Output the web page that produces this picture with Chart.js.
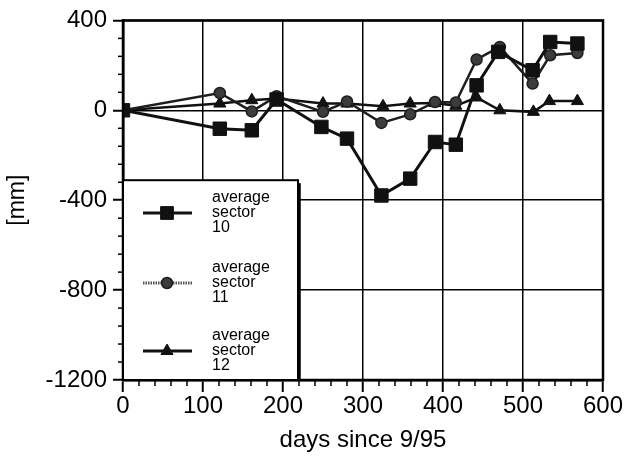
<!DOCTYPE html>
<html><head><meta charset="utf-8">
<style>html,body{margin:0;padding:0;background:#fff}</style>
<script src="https://cdn.jsdelivr.net/npm/chart.js@4/dist/chart.umd.min.js"></script>
</head><body>
<canvas id="c" width="624" height="459"></canvas>
<script>
const days10 = [0,121,161,192,248,280,323,359,390,416,442,469,512,534,568];
const sector10 = [0,-82,-89,48,-74,-126,-379,-304,-141,-153,111,260,178,304,297];
const days11 = [0,121,161,192,250,280,323,359,390,416,442,471,512,534,568];
const sector11 = [0,77,-5,63,-7,39,-56,-18,37,35,226,282,119,245,255];
const days12 = [0,121,161,192,250,280,325,359,390,416,442,471,513,533,568];
const sector12 = [0,30,45,52,30,30,18,30,32,20,57,0,-7,41,41];
const legendLabels = [["average","sector","10"],["average","sector","11"],["average","sector","12"]];
const xTitle = "days since 9/95";
const yTitle = "[mm]";

const FONT = "'Liberation Sans', Arial, Helvetica, sans-serif";
const pts = (xs, ys) => xs.map((x, i) => ({x: x, y: ys[i]}));

const styles = [
  {pointStyle:'rect', pointRadius:9.5, backgroundColor:'#111', borderColor:'#111', borderWidth:3, pointBorderWidth:1},
  {pointStyle:'circle', pointRadius:5.5, backgroundColor:'#3c3c3c', borderColor:'#1e1e1e', borderWidth:2.5, pointBorderWidth:1.5},
  {pointStyle:'triangle', pointRadius:7, backgroundColor:'#111', borderColor:'#111', borderWidth:2.5, pointBorderWidth:1}
];
const allDays = [days10, days11, days12];
const allVals = [sector10, sector11, sector12];

const datasets = allDays.map((d, i) => Object.assign({
  label: legendLabels[i].join(' '),
  data: pts(d, allVals[i]),
  showLine: true,
  tension: 0,
  pointBackgroundColor: styles[i].backgroundColor,
  pointBorderColor: styles[i].borderColor,
}, styles[i]));

const extras = {
  id: 'extras',
  afterDraw(chart) {
    const ctx = chart.ctx;
    const xs = chart.scales.x, ys = chart.scales.y;
    const a = chart.chartArea;
    ctx.save();
    ctx.strokeStyle = '#000';
    ctx.lineWidth = 1.5;
    for (let v = 0; v <= 600; v += 20) {
      if (v % 100 === 0) continue;
      const px = xs.getPixelForValue(v);
      ctx.beginPath(); ctx.moveTo(px, a.bottom); ctx.lineTo(px, a.bottom + 6); ctx.stroke();
    }
    for (let v = -1200; v <= 400; v += 80) {
      if (v % 400 === 0) continue;
      const py = ys.getPixelForValue(v);
      ctx.beginPath(); ctx.moveTo(a.left - 5, py); ctx.lineTo(a.left, py); ctx.stroke();
    }
    ctx.lineWidth = 2.5;
    ctx.strokeRect(a.left, a.top, a.right - a.left, a.bottom - a.top);
    // legend box
    const bx = a.left, by = ys.getPixelForValue(-311), bw = 175, bh = a.bottom - by;
    ctx.fillStyle = '#fff';
    ctx.fillRect(bx, by, bw, bh);
    ctx.lineWidth = 2;
    ctx.strokeRect(bx, by, bw, bh);
    ctx.lineWidth = 3.5;
    ctx.beginPath(); ctx.moveTo(bx + bw + 1, by + 3); ctx.lineTo(bx + bw + 1, by + bh); ctx.stroke();
    const rowY = [213, 283, 351];
    chart.data.datasets.forEach((ds, i) => {
      const y = rowY[i];
      ctx.strokeStyle = i === 1 ? '#555' : ds.borderColor;
      ctx.lineWidth = i === 1 ? 3 : 3;
      ctx.setLineDash(i === 1 ? [1.5, 1] : []);
      ctx.beginPath(); ctx.moveTo(bx + 20, y); ctx.lineTo(bx + 69, y); ctx.stroke();
      ctx.setLineDash([]);
      ctx.fillStyle = ds.backgroundColor; ctx.strokeStyle = ds.borderColor;
      ctx.lineWidth = ds.pointBorderWidth;
      Chart.helpers.drawPoint(ctx, {pointStyle: ds.pointStyle, radius: ds.pointRadius * (i === 0 ? 0.95 : 1), rotation: 0, borderWidth: ds.pointBorderWidth}, bx + 44, y);
      ctx.fillStyle = '#000';
      ctx.font = '16px ' + FONT;
      ctx.textAlign = 'left'; ctx.textBaseline = 'middle';
      legendLabels[i].forEach((t, k) => ctx.fillText(t, bx + 89, y + (k - 1) * 15));
    });
    ctx.restore();
  }
};

new Chart(document.getElementById('c'), {
  type: 'scatter',
  data: {datasets},
  options: {
    responsive: false,
    animation: false,
    layout: {padding: {top: 20, right: 21, bottom: 0, left: 0}},
    plugins: {legend: {display: false}, tooltip: {enabled: false}},
    scales: {
      x: {
        type: 'linear', min: 0, max: 600,
        ticks: {stepSize: 100, color: '#000', font: {family: FONT, size: 24}, padding: 0, maxRotation: 0, callback: v => String(v)},
        grid: {color: '#000', lineWidth: 1.5, tickLength: 12, tickWidth: 2},
        border: {color: '#000', width: 2.5},
        title: {display: true, text: xTitle, color: '#000', font: {family: FONT, size: 24}, padding: {top: 4, bottom: 4}},
        afterFit(s) { s.height = 79; }
      },
      y: {
        type: 'linear', min: -1200, max: 400,
        ticks: {stepSize: 400, color: '#000', font: {family: FONT, size: 24}, padding: 6, callback: v => String(v)},
        grid: {color: '#000', lineWidth: 1.5, tickLength: 10, tickWidth: 2},
        border: {color: '#000', width: 2.5},
        title: {display: true, text: yTitle, color: '#000', font: {family: FONT, size: 23}, padding: {top: 4, bottom: 0}},
        afterFit(s) { s.width = 123; }
      }
    }
  },
  plugins: [extras]
});
</script>
</body></html>
